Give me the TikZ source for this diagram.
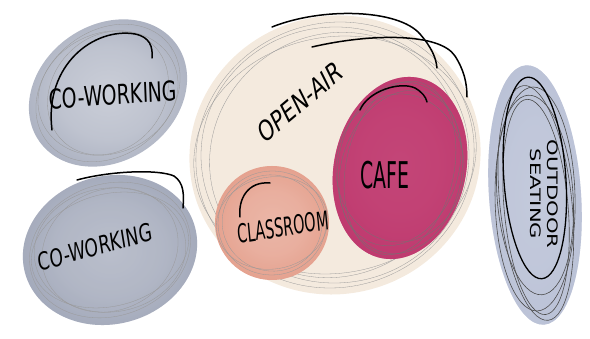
\documentclass[tikz,border=0pt]{standalone}
\usepackage{fontspec}
\setmainfont{DejaVu Sans Condensed}
\usetikzlibrary{positioning}
\definecolor{Slate}{HTML}{8A92A8}
\definecolor{Mist}{HTML}{B3BBD2}
\definecolor{Cream}{HTML}{F4EADE}
\definecolor{Salmon}{HTML}{E08E77}
\definecolor{Berry}{HTML}{BC2F67}
\colorlet{washc}{Slate}
\pgfdeclareradialshading[washc]{wash}{\pgfpoint{0bp}{0bp}}{%
  color(0bp)=(washc!45!white); color(14bp)=(washc!55!white);
  color(30bp)=(washc!80!white); color(40bp)=(washc); color(50bp)=(washc)}

\begin{document}
\begin{tikzpicture}[x=1pt,y=1pt,
    sketch/.style={draw=black!40,line width=.3pt},
    pen/.style={draw=black,line width=1.5pt,line cap=round},
    lbl/.style={inner sep=0pt,yscale=1.3,font=\fontsize{#1}{#1}\selectfont},
    lbl/.default=20]
  \useasboundingbox (0,0) rectangle (590,339);
  % washes
  \begin{scope}[shift={(108,246)},rotate=35]
    \shade[shading=wash] (0,0) ellipse (84 and 68);
    \foreach \a/\b/\t in {78/62/4,72/60/-10,66/56/14} \draw[sketch,rotate=\t] (0,0) ellipse ({\a} and {\b});
  \end{scope}
  \begin{scope}[shift={(110,89)},rotate=15]
    \shade[shading=wash] (0,0) ellipse (88 and 74);
    \fill[Slate,opacity=.25] (0,0) ellipse (88 and 74);
    \foreach \a/\b/\t in {82/66/4,76/62/-8,70/60/12,80/56/0} \draw[sketch,rotate=\t] (0,0) ellipse ({\a} and {\b});
  \end{scope}
  \begin{scope}[shift={(335,184)},rotate=15]
    \fill[Cream] (0,0) ellipse (146 and 139);
    \foreach \a/\b/\t in {140/132/5,134/128/-12,128/120/20,142/118/-4} \draw[sketch,rotate=\t] (0,0) ellipse ({\a} and {\b});
  \end{scope}
  \begin{scope}[shift={(272,116)}]
    \colorlet{washc}{Salmon}
    \shade[shading=wash] (0,0) ellipse (57 and 57);
    \fill[Salmon,opacity=.35] (0,0) ellipse (57 and 57);
    \foreach \a/\b/\t in {54/52/5,50/48/-15,56/46/10} \draw[sketch,rotate=\t] (0,0) ellipse ({\a} and {\b});
  \end{scope}
  \begin{scope}[shift={(400,171)},rotate=-12]
    \colorlet{washc}{Berry}
    \shade[shading=wash] (0,0) ellipse (66 and 92);
    \fill[Berry,opacity=.8] (0,0) ellipse (66 and 92);
    \foreach \a/\b/\t in {62/86/4,58/80/-8,64/74/10,54/88/0} \draw[sketch,black!55,rotate=\t] (0,0) ellipse ({\a} and {\b});
  \end{scope}
  \begin{scope}[shift={(535,144)},rotate=4]
    \colorlet{washc}{Mist}
    \shade[shading=wash] (0,0) ellipse (46 and 130);
    \fill[Mist,opacity=.6] (0,0) ellipse (46 and 130);
    \foreach \a/\b/\t/\d in {36/118/2/-8,40/112/-3/-4,32/108/1/-12,38/100/0/0}
      \draw[draw=black!70,line width=.6pt,rotate=\t] (0,\d) ellipse ({\a} and {\b});
    \draw[pen,line width=1.3pt] (1,17) ellipse (31 and 101);
  \end{scope}
  % labels
  \node[lbl=21,rotate=3] (cowork) at (113,244) {CO-WORKING};
  \node[lbl=19,rotate=12] (coworkb) at (95,92) {CO-WORKING};
  \node[lbl=22,rotate=33] (openair) at (300,237) {OPEN-AIR};
  \node[lbl=16,rotate=7,yscale=1.25] (classroom) at (283,112) {CLASSROOM};
  \node[lbl=21,yscale=1.35] (cafe) at (385,164) {CAFE};
  \node[lbl=18,rotate=-90,yscale=.8,align=center] (outdoor) at (544,145) {OUTDOOR\\[3pt]SEATING};
  % pen strokes
  \draw[pen] (52,209) .. controls (44,275) and (95,312) .. (135,305) .. controls (150,302) and (153,292) .. (152,281);
  \draw[pen] (77,159) .. controls (110,168) and (158,170) .. (174,163) .. controls (184,156) and (184,145) .. (183,131);
  \draw[pen] (272,312) .. controls (322,332) and (398,330) .. (420,305) .. controls (432,291) and (436,281) .. (437,271);
  \draw[pen] (312,292) .. controls (372,306) and (440,306) .. (455,283) .. controls (464,269) and (467,256) .. (467,242);
  \draw[pen] (360,229) .. controls (368,248) and (400,258) .. (415,251) .. controls (422,247) and (426,242) .. (427,237);
  \draw[pen] (240,122) .. controls (238,140) and (248,158) .. (270,156);
\end{tikzpicture}
\end{document}
